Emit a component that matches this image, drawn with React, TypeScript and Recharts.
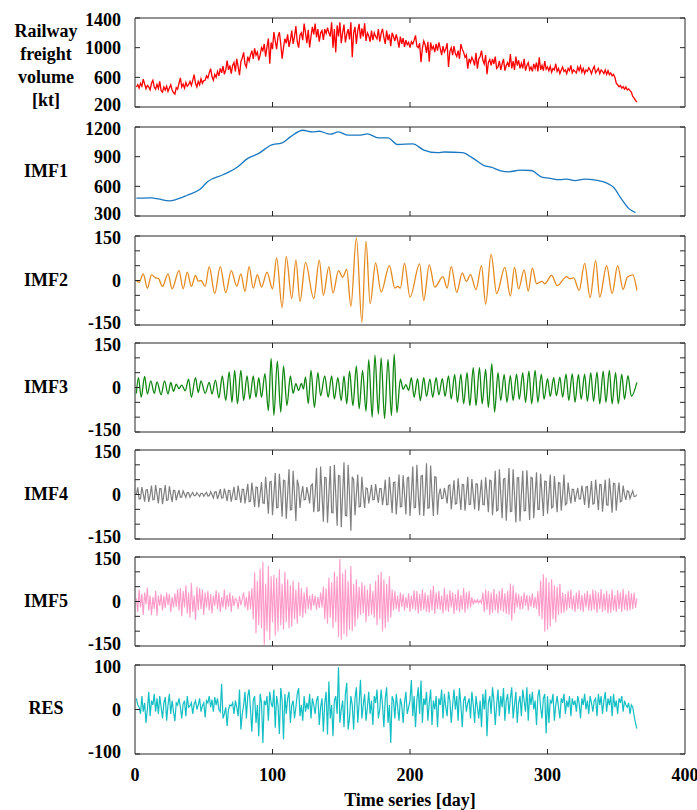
import { LineChart, Line, XAxis, YAxis, ReferenceArea } from "recharts";

// Daily railway freight volume [kt], day 1..365
const freightVolume = [
  470, 500, 455, 520, 480, 575, 510, 445, 490, 470,
  430, 520, 560, 470, 440, 505, 450, 545, 420, 400,
  470, 430, 480, 410, 455, 500, 430, 395, 375, 460,
  440, 520, 593, 470, 510, 455, 530, 480, 500, 545,
  490, 560, 637, 520, 470, 545, 500, 580, 520, 555,
  560, 620, 590, 660, 716, 610, 560, 640, 600, 680,
  620, 720, 660, 750, 640, 700, 827, 700, 760, 650,
  760, 800, 680, 850, 740, 628, 810, 860, 937, 780,
  738, 880, 820, 900, 960, 850, 990, 900, 940, 830,
  900, 1000, 960, 1050, 880, 1010, 1122, 783, 1070, 980,
  1210, 1090, 980, 1150, 1210, 1050, 850, 1000, 1120, 1060,
  1180, 1010, 1100, 1230, 1050, 1150, 1290, 1080, 1000, 1170,
  1200, 1100, 1325, 1200, 1060, 1240, 1003, 1150, 1280, 1180,
  1325, 1140, 1250, 1080, 1200, 1230, 1105, 1250, 1190, 1270,
  1200, 1150, 1343, 1000, 1250, 937, 1300, 1150, 1343, 1060,
  1200, 1310, 1070, 1180, 1250, 1110, 1343, 870, 1200, 1280,
  1050, 1230, 1320, 1120, 1260, 1150, 1330, 1090, 1200, 1160,
  1080, 1230, 1100, 1200, 1150, 1120, 1250, 1080, 1190, 1255,
  1140, 1050, 1230, 1100, 1180, 1020, 1200, 1150, 1090, 1180,
  1100, 1000, 1150, 1050, 1130, 1010, 1100, 1040, 1070, 1000,
  1080, 1050, 1100, 1166, 1020, 1000, 1060, 805, 990, 1090,
  1040, 930, 1080, 810, 1070, 980, 1020, 940, 1050, 960,
  1070, 990, 900, 1020, 940, 980, 1060, 740, 950, 1000,
  900, 1020, 920, 880, 960, 850, 1047, 980, 940, 870,
  900, 717, 850, 800, 870, 827, 760, 930, 717, 850,
  880, 960, 830, 780, 900, 642, 800, 840, 760, 850,
  780, 880, 720, 740, 820, 700, 780, 849, 690, 760,
  800, 740, 915, 720, 820, 700, 880, 760, 830, 720,
  790, 720, 849, 690, 760, 800, 700, 740, 680, 780,
  720, 800, 680, 871, 700, 760, 690, 820, 710, 740,
  690, 750, 670, 720, 700, 783, 680, 720, 650, 700,
  740, 680, 700, 650, 720, 690, 760, 660, 700, 680,
  660, 740, 690, 752, 670, 720, 650, 700, 680, 730,
  700, 650, 710, 750, 660, 690, 720, 650, 700, 680,
  650, 700, 640, 690, 637, 660, 620, 640, 600, 520,
  500, 474, 490, 455, 474, 440, 470, 430, 445, 420,
  400, 342, 320, 290, 267,
];

// IMF1 (trend), [day, value]
const imf1Points: [number, number][] = [
  [1, 480], [12, 483], [17, 473], [25, 453], [30, 467], [38, 510], [47, 567],
  [53, 650], [64, 717], [74, 790], [82, 883], [90, 933], [99, 1017], [107, 1040],
  [113, 1100], [122, 1167], [129, 1150], [134, 1157], [142, 1127], [148, 1150],
  [155, 1117], [163, 1117], [169, 1130], [177, 1090], [184, 1090], [191, 1023],
  [202, 1030], [210, 967], [220, 940], [225, 947], [238, 940], [246, 883],
  [254, 810], [259, 793], [266, 757], [272, 747], [280, 763], [288, 760],
  [296, 693], [301, 683], [309, 667], [314, 673], [320, 657], [327, 673],
  [335, 663], [342, 640], [348, 590], [354, 467], [359, 377], [364, 335],
];

// IMF2 turning points, [day, value]
const imf2Points: [number, number][] = [
  [1, 0], [3, -6], [6, 22], [9, -26], [12, 19], [15, 9], [17, 7], [20, -20],
  [24, 22], [27, -28], [32, 33], [35, -28], [38, 28], [41, -20], [44, 17],
  [46, -2], [48, 0], [51, -20], [54, 47], [58, -44], [62, 47], [66, -41],
  [70, 33], [74, -19], [77, 22], [80, -37], [83, 47], [86, -26], [89, 20],
  [92, -22], [96, 28], [100, -28], [103, 76], [107, -91], [110, 80], [114, -61],
  [117, 69], [120, -70], [124, 61], [130, -61], [134, 69], [137, -50], [141, 47],
  [144, -42], [148, 33], [151, 11], [154, 37], [157, -87], [161, 144], [165, -141],
  [168, 133], [171, -78], [175, 59], [179, -39], [185, 50], [189, -26], [191, -20],
  [193, -26], [196, 58], [200, -56], [207, 56], [210, -67], [214, 53], [218, -22],
  [224, 13], [227, -26], [230, 47], [234, -40], [238, 26], [241, -3], [244, 20],
  [248, -31], [252, 50], [255, -80], [259, 89], [263, -44], [269, 44], [273, -53],
  [276, 44], [279, -28], [283, 36], [286, -36], [289, 42], [292, -11], [296, -3],
  [298, -11], [303, 17], [307, -17], [314, 13], [316, 6], [319, 9], [323, -33],
  [327, 58], [331, -58], [335, 67], [338, -56], [343, 50], [347, -44], [351, 50],
  [355, -30], [358, 11], [362, 19], [365, -33],
];

// IMF3 turning points, [day, value]
const imf3Points: [number, number][] = [
  [1, -20], [2.5, 33], [4.5, -33], [7, 37], [9, -22], [11.5, 22], [14, -20],
  [16, 19], [19, -24], [21.5, 22], [24, -22], [26, 17], [28, -13], [30, 11],
  [32, -4], [34, 8], [36.5, -11], [39, 28], [41, -33], [44, 33], [46, -17],
  [48, 22], [51, -20], [54, 17], [56, -22], [58.5, 25], [61, -35], [63.5, 39],
  [66, -44], [68.5, 53], [70.5, -50], [72.5, 58], [74.5, -55], [77, 58], [79, -44],
  [81.5, 39], [83.5, -39], [86, 39], [88, -33], [90, 33], [92, -33], [94.5, 47],
  [97, -78], [99, 98], [101, -94], [103.5, 89], [106, -83], [108, 72], [110.5, -61],
  [113, 39], [115, -20], [117, 13], [119, -10], [121, 14], [122.5, -5], [124, 36],
  [126, -55], [128, 58], [130.5, -67], [133, 50], [135, -28], [138, 39], [140.5, -33],
  [143, 39], [145, -39], [147.5, 33], [150, -44], [152, 39], [154, -55], [156, 55],
  [158.5, -61], [161, 72], [163, -72], [165.5, 58], [168, -80], [170, 94],
  [172.5, -100], [174.5, 109], [177, -90], [179, 100], [181.5, -105], [184, 95],
  [186.5, -95], [188.5, 112], [190.5, -85], [193, 28], [195, -6], [197, 10],
  [199, -10], [201, 33], [203, -33], [205.5, 30], [207.5, -44], [210, 33], [212, -30],
  [214.5, 28], [216.5, -33], [219, 33], [221, -25], [223.5, 30], [225.5, -30],
  [228, 39], [230, -39], [232.5, 44], [234.5, -50], [237, 45], [239, -55],
  [241.5, 50], [243.5, -61], [246, 67], [248, -61], [250.5, 67], [252.5, -55],
  [255, 61], [257, -67], [259.5, 80], [261.5, -83], [264, 50], [266, -44],
  [268.5, 44], [270.5, -50], [273, 40], [275, -44], [277.5, 45], [279.5, -40],
  [282, 50], [284, -50], [286.5, 55], [288.5, -55], [291, 58], [293, -50],
  [295.5, 45], [297.5, -40], [300, 30], [302, -30], [304.5, 33], [306.5, -28],
  [309, 35], [311, -33], [313.5, 45], [315.5, -44], [318, 47], [320, -50],
  [322.5, 44], [324.5, -40], [327, 45], [329, -47], [331.5, 50], [333.5, -47],
  [336, 52], [338, -55], [340.5, 55], [342.5, -50], [345, 58], [347, -55],
  [349.5, 50], [351.5, -55], [354, 45], [356, -40], [358.5, 40], [361, -30], [365, 17],
];

// IMF4, daily
const imf4 = [
  0, 24, -15, -14, 25, 2, -24, 15, 16, -25,
  -2, 30, -18, -17, 32, 1, -30, 20, 19, -33,
  0, 32, -20, -18, 28, 0, -25, 14, 13, -20,
  0, 15, -9, -8, 12, 1, -10, 6, 6, -9,
  0, 7, -4, -4, 6, 0, -7, 4, 4, -6,
  1, 7, -5, -4, 9, 0, -12, 8, 9, -15,
  0, 18, -12, -11, 20, 1, -22, 14, 13, -24,
  0, 26, -17, -16, 30, 0, -28, 18, 17, -30,
  2, 36, -24, -22, 40, -1, -42, 25, 24, -44,
  0, 42, -28, -30, 60, 0, -65, 42, 44, -70,
  0, 72, -45, -44, 70, 2, -75, 48, 46, -82,
  0, 85, -52, -50, 80, 0, -89, 50, 30, -45,
  0, 28, -18, -16, 25, 0, -30, 30, 35, -60,
  0, 90, -56, -54, 94, 0, -92, 58, 56, -95,
  0, 96, -60, -62, 100, 2, -105, 64, 62, -110,
  0, 109, -70, -72, 100, 0, -122, 60, 50, -70,
  0, 67, -42, -40, 60, 0, -45, 22, 20, -30,
  0, 33, -18, -17, 35, 0, -28, 20, 20, -35,
  0, 50, -35, -34, 60, 0, -62, 40, 42, -67,
  0, 67, -42, -40, 65, 2, -67, 55, 58, -72,
  0, 94, -45, -44, 100, 0, -70, 62, 64, -72,
  0, 105, -46, -45, 98, 0, -72, 60, 58, -68,
  0, 20, -14, -12, 22, 0, -30, 30, 32, -50,
  0, 48, -32, -30, 55, 0, -52, 34, 33, -55,
  0, 60, -34, -33, 52, 0, -50, 36, 35, -55,
  0, 50, -34, -35, 58, 0, -60, 48, 46, -70,
  0, 80, -55, -52, 85, 0, -80, 52, 54, -88,
  0, 89, -58, -56, 85, 0, -94, 56, 57, -90,
  0, 80, -55, -54, 82, 0, -86, 58, 55, -80,
  0, 75, -50, -50, 70, 0, -72, 45, 44, -65,
  0, 67, -45, -42, 62, 0, -60, 40, 38, -55,
  0, 67, -35, -30, 40, 0, -30, 18, 17, -25,
  0, 22, -15, -15, 30, 0, -35, 25, 27, -45,
  0, 45, -32, -30, 50, 0, -52, 34, 33, -58,
  0, 50, -35, -36, 55, 0, -61, 38, 36, -55,
  0, 40, -25, -22, 30, 0, -18, 12, 10, -14,
  0, 12, -7, -6, 0,
];

// IMF5, daily
const imf5 = [
  10, -35, 40, -20, 25, -45, 30, -10, 47, -30,
  20, -46, 15, -25, 36, -48, 20, -15, 25, -30,
  18, -22, 30, -12, 25, -35, 15, -20, 28, -18,
  40, -30, 45, -50, 35, -20, 55, -40, 30, -55,
  62, -35, 20, -62, 50, -30, 45, -25, 40, -45,
  30, -20, 35, -30, 25, -40, 20, -15, 38, -25,
  30, -35, 15, -20, 40, -28, 22, -18, 30, -35,
  20, -15, 10, 4, -25, 18, -12, 8, 30, -20,
  15, -30, 35, -25, 45, -60, 98, -107, 70, -80,
  110, -90, 134, -146, 60, -100, 120, -130, 85, -70,
  90, -115, 80, -100, 109, -80, 60, -95, 100, -70,
  75, -90, 55, -85, 70, -60, 40, -75, 65, -50,
  45, -55, 30, -40, 50, -25, 20, -30, 25, -15,
  20, -28, 15, -22, 30, -20, 50, -60, 45, -75,
  80, -55, 65, -90, 100, -70, 85, -120, 143, -129,
  95, -110, 109, -118, 70, -95, 120, -100, 60, -85,
  75, -60, 50, -45, 65, -40, 55, -70, 40, -50,
  60, -45, 35, -55, 70, -80, 90, -60, 100, -101,
  75, -90, 60, -70, 85, -55, 40, -30, 35, -25,
  20, -35, 30, -18, 25, -30, 15, -22, 28, -35,
  20, -25, 38, -30, 35, -40, 25, -32, 40, -28,
  30, -35, 22, -38, 40, -30, 53, -42, 30, -25,
  35, -28, 20, -40, 45, -30, 25, -35, 38, -20,
  30, -42, 25, -30, 40, -35, 22, -28, 45, -38,
  30, -25, 35, -20, 15, -10, 5, -4, 6, -5,
  4, -6, 30, -35, 40, -28, 35, -45, 30, -38,
  42, -30, 25, -40, 35, -30, 45, -35, 28, -42,
  35, -45, 61, -65, 55, -40, 30, -20, 25, -28,
  18, -25, 30, -15, 22, -30, 20, -18, 28, -22,
  15, -25, 35, -50, 70, -60, 92, -102, 80, -95,
  65, -85, 75, -60, 55, -70, 50, -45, 60, -40,
  30, -38, 25, -30, 35, -22, 40, -28, 20, -35,
  30, -25, 38, -30, 22, -35, 28, -20, 35, -30,
  25, -32, 40, -28, 35, -38, 30, -25, 42, -35,
  28, -30, 35, -40, 25, -38, 40, -30, 22, -35,
  38, -25, 30, -35, 42, -28, 25, -32, 35, -30,
  28, -25, 30, -22, 10,
];

// Residue, daily
const residue = [
  25, 10, 5, -10, 30, -5, 15, -30, 0, 40,
  -15, 20, 10, 35, -5, 25, -10, 30, 5, -20,
  15, 28, -25, 10, 35, -10, 20, -5, -26, 15,
  10, 25, 5, -20, 12, 20, -15, 30, 5, 8,
  15, -10, 12, 20, 0, 10, 25, -5, 8, 15,
  -18, 20, 15, 30, 5, 22, -5, 28, 10, 25,
  0, -5, 58, -20, -10, 5, -37, 0, 10, 8,
  15, -10, 20, 5, -15, 45, -45, -10, 10, 40,
  -20, 30, 45, 0, -50, 20, 30, -30, 10, -60,
  35, 15, -75, 20, 10, 30, -25, 40, 15, 5,
  45, -41, 30, 10, -55, 48, 20, -67, 35, -10,
  25, 40, -30, 10, 20, -20, 5, 35, 48, -15,
  10, -25, 30, -5, 15, 0, 35, -20, 25, 10,
  -10, 20, 30, -35, 5, 25, -50, 15, 40, -56,
  63, -20, 10, -60, 20, 30, -10, 95, -30, 0,
  20, -40, 35, 60, -45, -20, 30, 10, -45, 25,
  50, -30, 15, 67, -20, 10, 35, -25, 5, 40,
  -10, 20, -35, 30, 15, 45, -20, 0, 45, 10,
  -40, 25, 50, -30, 10, -75, 30, 20, -20, 35,
  5, -25, 25, 10, -30, 15, 40, -10, 5, 20,
  66, -15, 30, -40, 20, 50, -10, 65, -30, 25,
  10, 40, -25, 15, 45, -35, 20, 0, 30, -40,
  25, 10, 45, -20, 35, 5, -15, 40, 20, -30,
  10, 45, 0, 30, -25, 48, 10, -40, 20, 30,
  -5, 15, 25, -20, 40, 10, -30, 30, 5, -20,
  20, -40, 35, 0, 45, -60, 15, 30, -10, 50,
  20, -35, 10, 45, -15, 30, 5, 48, -25, 20,
  35, -10, 25, 50, -20, 10, 40, -30, 15, 30,
  -15, 45, 20, -5, 50, -25, 35, 10, 40, 0,
  20, -35, 30, 45, 5, -20, 25, 35, -54, 30,
  -30, 20, 15, 35, -25, 10, 30, 5, -20, 25,
  15, 35, -10, 20, 5, 30, -15, 25, 10, 20,
  -5, 30, 15, -20, 25, 10, 35, 0, 20, -10,
  30, 15, -5, 20, 25, -15, 35, 10, 30, -10,
  20, 39, -5, 25, 10, 30, -15, 35, 5, 20,
  -10, 25, 15, 30, -5, 20, 10, 5, 15, -10,
  10, 5, -15, -30, -43,
];

const dayTicks = [0, 100, 200, 300, 400];

const AXIS = "#262626";
const FONT = "'Liberation Serif', 'Times New Roman', serif";
const CHART_W = 697;
const PLOT_LEFT = 135;
const PLOT_RIGHT = 685;
const PLOT_H = 89;
const PAD = 10;
const LINE_H = 23;

type Row = { day: number; v: number };

const dailyRows = (vals: number[]): Row[] => vals.map((v, i) => ({ day: i + 1, v }));
const pointRows = (pts: [number, number][]): Row[] => pts.map(([day, v]) => ({ day, v }));

type Panel = {
  name: string[];
  top: number;
  nameTop: number;
  domain: [number, number];
  ticks: number[];
  labels: number[];
  color: string;
  rows: Row[];
  curve: "linear" | "monotone";
  width: number;
};

const imfTicks = [-150, -100, -50, 0, 50, 100, 150];
const imfLabels = [-150, 0, 150];

const panels: Panel[] = [
  {
    name: ["Railway", "freight", "volume", "[kt]"],
    top: 18,
    nameTop: 20,
    domain: [200, 1400],
    ticks: [200, 600, 1000, 1400],
    labels: [200, 600, 1000, 1400],
    color: "#ff0000",
    rows: dailyRows(freightVolume),
    curve: "linear",
    width: 1.3,
  },
  {
    name: ["IMF1"],
    top: 127,
    nameTop: 160,
    domain: [300, 1200],
    ticks: [300, 600, 900, 1200],
    labels: [300, 600, 900, 1200],
    color: "#1a78c2",
    rows: pointRows(imf1Points),
    curve: "monotone",
    width: 1.3,
  },
  { name: ["IMF2"], top: 236, nameTop: 269, domain: [-150, 150], ticks: imfTicks, labels: imfLabels, color: "#e6891c", rows: pointRows(imf2Points), curve: "monotone", width: 1.3 },
  { name: ["IMF3"], top: 343, nameTop: 376, domain: [-150, 150], ticks: imfTicks, labels: imfLabels, color: "#118811", rows: pointRows(imf3Points), curve: "monotone", width: 1.3 },
  { name: ["IMF4"], top: 450, nameTop: 483, domain: [-150, 150], ticks: imfTicks, labels: imfLabels, color: "#7f7f7f", rows: dailyRows(imf4), curve: "linear", width: 1.2 },
  { name: ["IMF5"], top: 557, nameTop: 590, domain: [-150, 150], ticks: imfTicks, labels: imfLabels, color: "#ff99c8", rows: dailyRows(imf5), curve: "linear", width: 1.1 },
  {
    name: ["RES"],
    top: 665,
    nameTop: 697,
    domain: [-100, 100],
    ticks: [-100, 0, 100],
    labels: [-100, 0, 100],
    color: "#12bfc4",
    rows: dailyRows(residue),
    curve: "linear",
    width: 1.2,
  },
];

const textStyle = { fontFamily: FONT, fontWeight: "bold" as const, fontSize: 18, fill: "#000" };

function YTick(props: any) {
  const { x, y, payload, labels, domain } = props;
  // keep the end labels of stacked panels from running into each other
  const nudge = payload.value === domain[0] ? -2 : payload.value === domain[1] ? 2 : 0;
  return (
    <g>
      <line x1={PLOT_LEFT} x2={PLOT_LEFT + 5} y1={y} y2={y} stroke={AXIS} />
      <line x1={PLOT_RIGHT - 5} x2={PLOT_RIGHT} y1={y} y2={y} stroke={AXIS} />
      {labels.includes(payload.value) && (
        <text x={x} y={y + nudge} dy="0.35em" textAnchor="end" {...textStyle}>
          {payload.value}
        </text>
      )}
    </g>
  );
}

function XTick(props: any) {
  const { x, payload, showLabel } = props;
  const top = PAD;
  const bottom = PAD + PLOT_H;
  const inner = payload.value > 0 && payload.value < 400;
  return (
    <g>
      {inner && <line x1={x} x2={x} y1={bottom} y2={bottom - 5} stroke={AXIS} />}
      {inner && <line x1={x} x2={x} y1={top} y2={top + 5} stroke={AXIS} />}
      {showLabel && (
        <text x={x} y={bottom + 21} dy="0.35em" textAnchor="middle" {...textStyle}>
          {payload.value}
        </text>
      )}
    </g>
  );
}

function PanelChart({ p, last }: { p: Panel; last: boolean }) {
  return (
    <div style={{ position: "absolute", left: 0, top: p.top - PAD }}>
      <LineChart
        width={CHART_W}
        height={PLOT_H + PAD * 2}
        data={p.rows}
        margin={{ top: PAD, right: CHART_W - PLOT_RIGHT, bottom: 0, left: 0 }}
      >
        <XAxis
          dataKey="day"
          type="number"
          domain={[0, 400]}
          ticks={dayTicks}
          interval={0}
          height={PAD}
          tickSize={0}
          tickMargin={0}
          axisLine={false}
          tickLine={false}
          tick={(t: any) => <XTick {...t} showLabel={last} />}
        />
        <YAxis
          type="number"
          domain={p.domain}
          ticks={p.ticks}
          interval={0}
          width={PLOT_LEFT}
          tickSize={0}
          tickMargin={14}
          axisLine={false}
          tickLine={false}
          tick={(t: any) => <YTick {...t} labels={p.labels} domain={p.domain} />}
        />
        <ReferenceArea
          x1={0}
          x2={400}
          y1={p.domain[0]}
          y2={p.domain[1]}
          fill="none"
          fillOpacity={0}
          stroke={AXIS}
          strokeWidth={1}
          strokeOpacity={1}
        />
        <Line
          dataKey="v"
          type={p.curve}
          stroke={p.color}
          strokeWidth={p.width}
          dot={false}
          activeDot={false}
          isAnimationActive={false}
        />
      </LineChart>
    </div>
  );
}

export default function App() {
  return (
    <div style={{ position: "absolute", left: 0, top: 0, width: 697, height: 810, background: "#fff" }}>
      <style>{".recharts-surface{overflow:visible}"}</style>
      {panels.map((p, i) => (
        <PanelChart key={p.name.join(" ")} p={p} last={i === panels.length - 1} />
      ))}
      {panels.map((p) => (
        <div
          key={"label-" + p.name.join(" ")}
          style={{
            position: "absolute",
            left: 0,
            width: 92,
            top: p.nameTop,
            textAlign: "center",
            fontFamily: FONT,
            fontWeight: "bold",
            fontSize: 18,
            lineHeight: LINE_H + "px",
            color: "#000",
          }}
        >
          {p.name.map((line) => (
            <div key={line}>{line}</div>
          ))}
        </div>
      ))}
      <div
        style={{
          position: "absolute",
          left: PLOT_LEFT,
          width: PLOT_RIGHT - PLOT_LEFT,
          top: 790,
          textAlign: "center",
          fontFamily: FONT,
          fontWeight: "bold",
          fontSize: 18,
          lineHeight: "20px",
          color: "#000",
        }}
      >
        Time series [day]
      </div>
    </div>
  );
}
